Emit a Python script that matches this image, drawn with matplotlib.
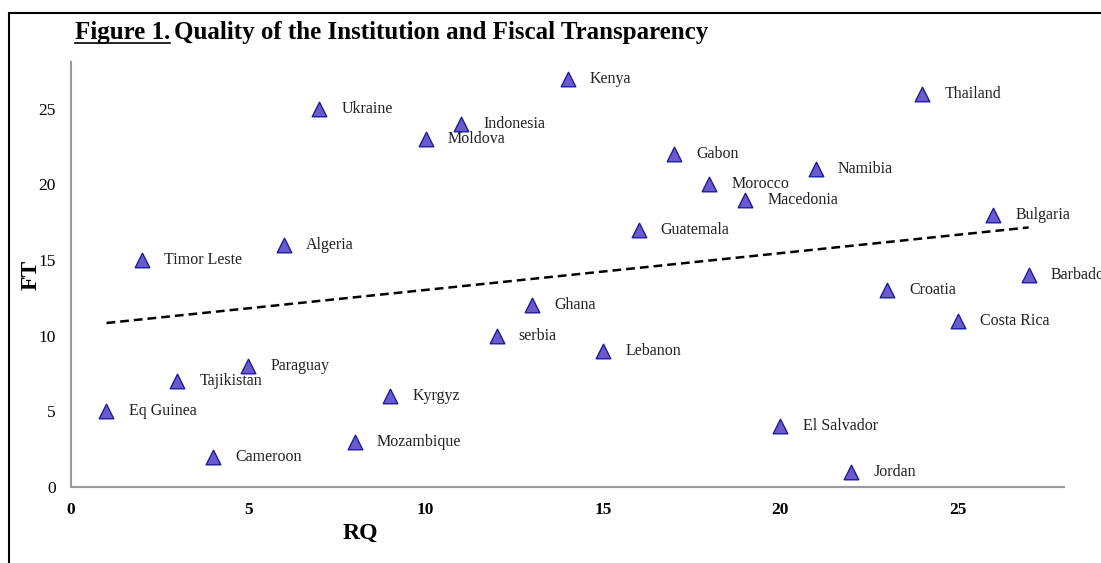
import matplotlib.pyplot as plt
import numpy as np
from matplotlib.lines import Line2D
from matplotlib.patches import Rectangle

plt.rcParams['font.family'] = ['Liberation Serif', 'DejaVu Serif']

countries = ["Eq Guinea", "Timor Leste", "Tajikistan", "Cameroon", "Paraguay", "Algeria",
             "Ukraine", "Mozambique", "Kyrgyz", "Moldova", "Indonesia", "serbia", "Ghana",
             "Kenya", "Lebanon", "Guatemala", "Gabon", "Morocco", "Macedonia", "El Salvador",
             "Namibia", "Jordan", "Croatia", "Thailand", "Costa Rica", "Bulgaria", "Barbados"]
rq = [1, 2, 3, 4, 5, 6, 7, 8, 9, 10, 11, 12, 13, 14, 15, 16, 17, 18, 19, 20,
      21, 22, 23, 24, 25, 26, 27]
ft = [5, 15, 7, 2, 8, 16, 25, 3, 6, 23, 24, 10, 12, 27, 9, 17, 22, 20, 19, 4,
      21, 1, 13, 26, 11, 18, 14]
xticks = [0, 5, 10, 15, 20, 25]
yticks = [0, 5, 10, 15, 20, 25]

fig = plt.figure(figsize=(11.01, 5.63), dpi=100)
ax = fig.add_axes([0.0645, 0.135, 0.902, 0.755])

# trend line
k, b = np.polyfit(rq, ft, 1)
xs = np.array([min(rq), max(rq)])
ax.plot(xs, k * xs + b, color='black', linestyle=(0, (3.5, 2)), linewidth=1.8, zorder=2)

ax.scatter(rq, ft, marker='^', s=110, facecolor='#6a5acd', edgecolor='#1c1c9c',
           linewidth=1.0, zorder=3)
for name, x, y in zip(countries, rq, ft):
    ax.annotate(name, (x, y), xytext=(16, 0), textcoords='offset points',
                va='center', ha='left', fontsize=11.5, color='#222222', clip_on=False)

ax.set_xlim(0, 28)
ax.set_ylim(0, 28.1)
ax.set_xticks(xticks)
ax.set_yticks(yticks)
ax.tick_params(axis='both', length=0, labelsize=12.5)
ax.tick_params(axis='x', pad=11)
ax.tick_params(axis='y', pad=11)
for lab in ax.get_xticklabels():
    lab.set_fontweight('bold')
for s in ['top', 'right']:
    ax.spines[s].set_visible(False)
for s in ['left', 'bottom']:
    ax.spines[s].set_color('#9a9a9a')
    ax.spines[s].set_linewidth(1.5)

fig.text(360 / 1101, 1 - 533 / 563, 'RQ', fontsize=17, fontweight='bold', ha='center', va='center')
fig.text(31 / 1101, 1 - 275 / 563, 'FT', fontsize=17, fontweight='bold', ha='center', va='center',
         rotation=90)

# frame around figure (only left and top visible)
fig.patches.append(Rectangle((9 / 1101, -0.1), 1.2, 1 - 13 / 563 + 0.1, transform=fig.transFigure,
                             fill=False, edgecolor='black', linewidth=1.5))

# title with underlined "Figure 1."
t1 = fig.text(75 / 1101, 1 - 33 / 563, 'Figure 1.', fontsize=18, fontweight='bold', va='center')
fig.canvas.draw()
bb = t1.get_window_extent().transformed(fig.transFigure.inverted())
fig.text(bb.x1 + 4 / 1101, 1 - 33 / 563, 'Quality of the Institution and Fiscal Transparency',
         fontsize=18, fontweight='bold', va='center')
fig.lines.append(Line2D([bb.x0, bb.x1], [bb.y0 + 2 / 563, bb.y0 + 2 / 563], transform=fig.transFigure,
                        color='black', linewidth=1.2))

fig.savefig('out.png', dpi=100)
